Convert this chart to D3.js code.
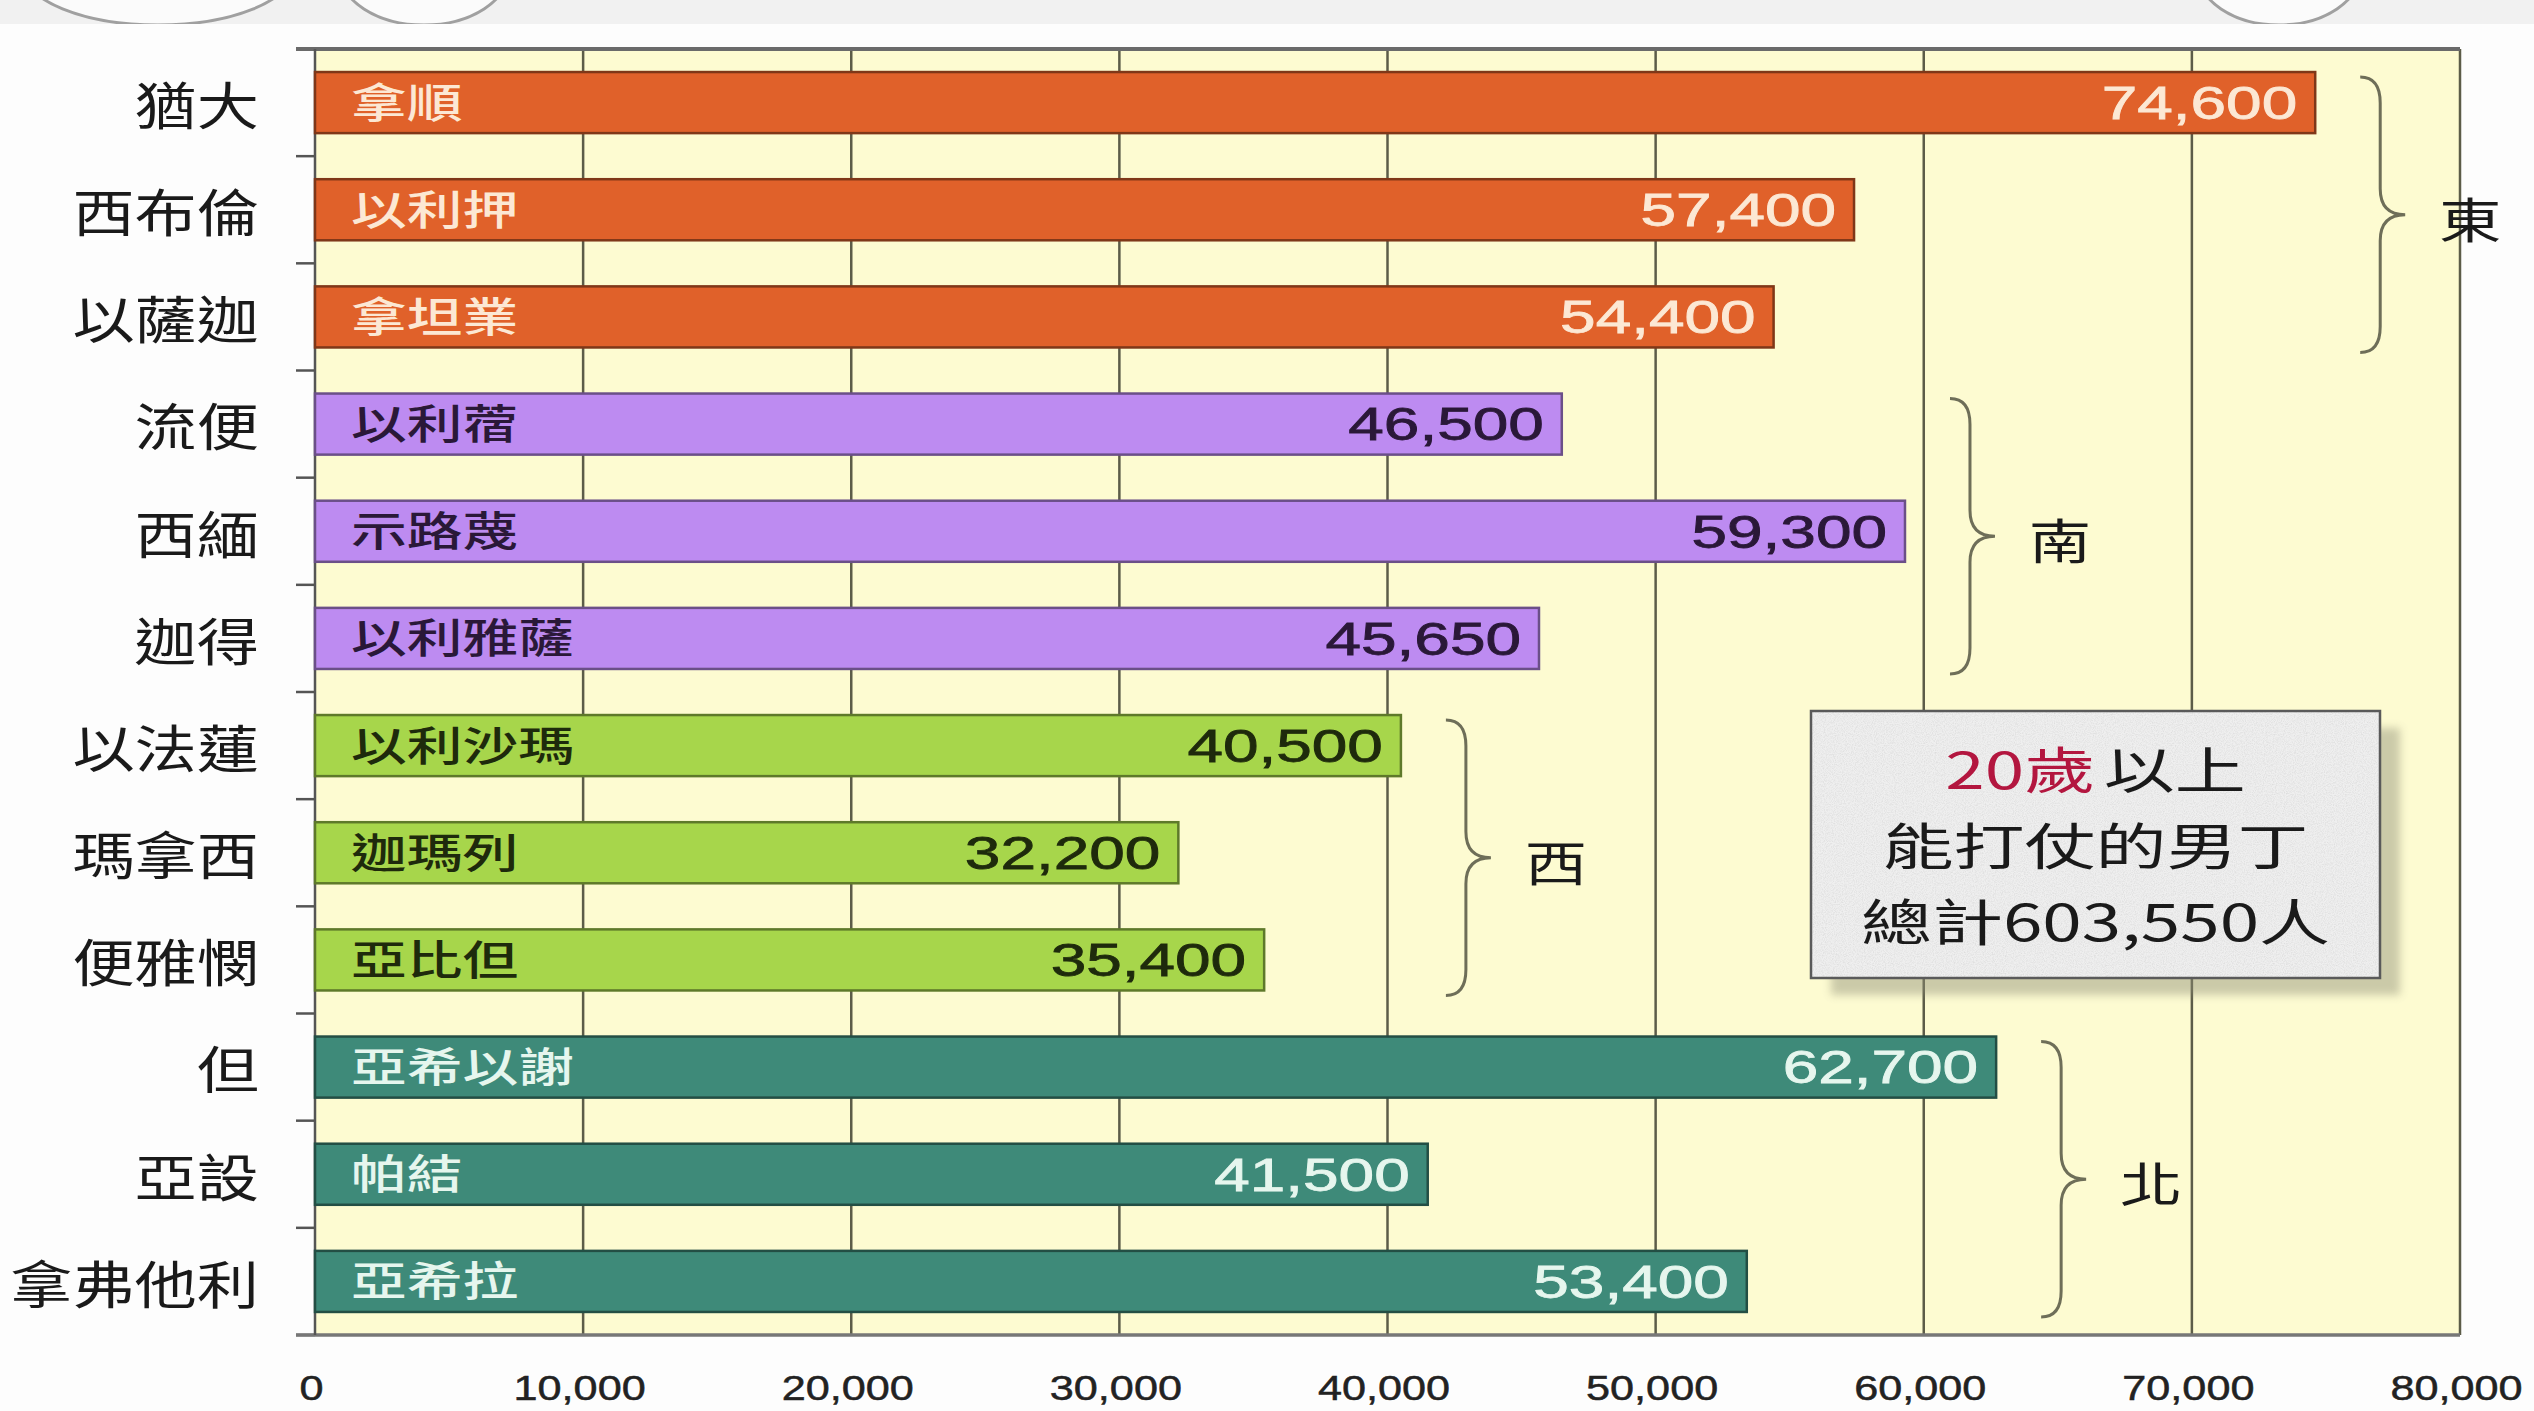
<!DOCTYPE html>
<html><head><meta charset="utf-8">
<script src="https://cdn.jsdelivr.net/npm/d3@7"></script>
<style>body{margin:0;background:#fdfdfd;overflow:hidden} svg{display:block}</style>
</head><body><svg id="c" width="2534" height="1411"></svg>
<script>
// ---- data ----
const tribes  = ["猶大","西布倫","以薩迦","流便","西緬","迦得","以法蓮","瑪拿西","便雅憫","但","亞設","拿弗他利"];
const leaders = ["拿順","以利押","拿坦業","以利蓿","示路蔑","以利雅薩","以利沙瑪","迦瑪列","亞比但","亞希以謝","帕結","亞希拉"];
const values  = [74600,57400,54400,46500,59300,45650,40500,32200,35400,62700,41500,53400];
const groupOf = ["東","東","東","南","南","南","西","西","西","北","北","北"];
const groupNames = ["東","南","西","北"];
const xTicks = [0,10000,20000,30000,40000,50000,60000,70000,80000];
const noteRed = "20歲";
const noteLines = ["以上","能打仗的男丁","總計603,550人"];

// ---- styles ----
const fillOf = {"東":"#e0612a","南":"#bd8bf1","西":"#a7d64b","北":"#3e8a79"};
const nameColor = {"東":"#fce8d4","南":"#2a1838","西":"#1e2a0c","北":"#e6f6ee"};
const cjk = "'Noto Sans CJK TC','Noto Sans CJK SC',sans-serif";
const latin = "'Liberation Sans',Arial,sans-serif";

const svg = d3.select("#c");
const defs = svg.append("defs");
const f = defs.append("filter").attr("id","noise").attr("x",0).attr("y",0).attr("width","100%").attr("height","100%");
f.append("feTurbulence").attr("type","fractalNoise").attr("baseFrequency",0.9).attr("numOctaves",2).attr("result","n");
f.append("feColorMatrix").attr("in","n").attr("type","matrix")
 .attr("values","0 0 0 0 0.55  0 0 0 0 0.55  0 0 0 0 0.55  0 0 0 -1.6 1.0").attr("result","g");
f.append("feComposite").attr("in","g").attr("in2","SourceGraphic").attr("operator","in");
const bl = defs.append("filter").attr("id","blur");
bl.append("feGaussianBlur").attr("stdDeviation",4);
defs.append("clipPath").attr("id","topclip").append("rect").attr("x",0).attr("y",0).attr("width",2534).attr("height",24);

// top decoration strip
svg.append("rect").attr("x",0).attr("y",0).attr("width",2534).attr("height",24).attr("fill","#f1f1f1");
const deco = svg.append("g").attr("clip-path","url(#topclip)");
[[158,135],[424,85],[2279,82]].forEach(([cx,rx])=>{
  deco.append("ellipse").attr("cx",cx).attr("cy",-30).attr("rx",rx).attr("ry",55)
    .attr("fill","#fbfbfb").attr("stroke","#a0a0a0").attr("stroke-width",3);
});

// ---- scales ----
const x = d3.scaleLinear().domain([0,80000]).range([315,2460]);
const y = d3.scaleBand().domain(tribes).range([49,1335]).paddingInner(0.43).paddingOuter(0.215);
const bw = y.bandwidth();

// plot background
svg.append("rect").attr("x",x(0)).attr("y",y.range()[0]).attr("width",x(80000)-x(0))
  .attr("height",y.range()[1]-y.range()[0]).attr("fill","#fdfbd1");

// vertical grid lines
svg.append("g").selectAll("line").data(xTicks.filter(d=>d>0)).join("line")
  .attr("x1",d=>x(d)).attr("x2",d=>x(d)).attr("y1",y.range()[0]).attr("y2",y.range()[1])
  .attr("stroke","#5c5c48").attr("stroke-width",2.5);

// category boundary ticks
const bounds = tribes.map(t=>y(t)-y.step()*y.paddingInner()/2).concat([y.range()[1]]);
svg.append("g").selectAll("line").data(bounds).join("line")
  .attr("x1",296).attr("x2",x(0)).attr("y1",d=>d).attr("y2",d=>d)
  .attr("stroke","#555").attr("stroke-width",2.5);

// frame lines
svg.append("line").attr("x1",296).attr("x2",x(80000)).attr("y1",y.range()[0]).attr("y2",y.range()[0])
  .attr("stroke","#6a6a6a").attr("stroke-width",4);
svg.append("line").attr("x1",296).attr("x2",x(80000)).attr("y1",y.range()[1]).attr("y2",y.range()[1])
  .attr("stroke","#777").attr("stroke-width",3.5);
svg.append("line").attr("x1",x(0)).attr("x2",x(0)).attr("y1",y.range()[0]).attr("y2",y.range()[1])
  .attr("stroke","#555").attr("stroke-width",2.5);

// bars
const rows = tribes.map((t,i)=>({t, leader:leaders[i], v:values[i], g:groupOf[i]}));
svg.append("g").selectAll("rect").data(rows).join("rect")
  .attr("x",x(0)).attr("y",d=>y(d.t)).attr("width",d=>x(d.v)-x(0)).attr("height",bw)
  .attr("fill",d=>fillOf[d.g]).attr("stroke",d=>d3.color(fillOf[d.g]).darker(1.6)).attr("stroke-width",2.5);

// leader names inside bars
svg.append("g").selectAll("text").data(rows).join("text")
  .attr("transform",d=>`translate(${x(0)+36},${y(d.t)+bw/2-3}) scale(1.36,1)`)
  .attr("dominant-baseline","central").attr("font-family",cjk).attr("font-size",41).attr("font-weight",500)
  .attr("fill",d=>nameColor[d.g]).text(d=>d.leader);

// values inside bars
svg.append("g").selectAll("text").data(rows).join("text")
  .attr("transform",d=>`translate(${x(d.v)-18},${y(d.t)+bw/2}) scale(1.36,1)`)
  .attr("text-anchor","end").attr("dominant-baseline","central")
  .attr("font-family",latin).attr("font-size",47)
  .attr("fill",d=>nameColor[d.g]).attr("stroke",d=>nameColor[d.g]).attr("stroke-width",0.8)
  .text(d=>d3.format(",")(d.v));

// y axis labels
const yAxis = svg.append("g").attr("transform",`translate(${x(0)},0)`)
  .call(d3.axisLeft(y).tickSize(0).tickPadding(0));
yAxis.select(".domain").remove();
yAxis.selectAll("text").attr("x",0).attr("dy",null)
  .attr("transform","translate(-56,0) scale(1.22,1)")
  .attr("dominant-baseline","central").attr("text-anchor","end")
  .attr("font-family",cjk).attr("font-size",51).attr("fill","#1a1a1a");

// x axis labels
const xAxis = svg.append("g").attr("transform",`translate(0,${y.range()[1]})`)
  .call(d3.axisBottom(x).tickValues(xTicks).tickFormat(d3.format(",")).tickSize(0).tickPadding(0));
xAxis.select(".domain").remove();
xAxis.selectAll("text").attr("y",0).attr("dy",null)
  .attr("transform","translate(-4,52) scale(1.2,1)")
  .attr("dominant-baseline","central").attr("text-anchor","middle")
  .attr("font-family",latin).attr("font-size",36).attr("fill","#222")
  .attr("stroke","#222").attr("stroke-width",0.5);

// group braces
groupNames.forEach(g=>{
  const idx = rows.map((r,i)=>r.g===g?i:-1).filter(i=>i>=0);
  const y0 = y(tribes[idx[0]])+5, y1 = y(tribes[idx[idx.length-1]])+bw+5;
  const left = x(d3.max(idx,i=>values[i]))+45;
  const xm = left+20, xt = left+45, ym=(y0+y1)/2, r=26;
  const p = `M${left},${y0} Q${xm},${y0} ${xm},${y0+r} L${xm},${ym-r} Q${xm},${ym} ${xt},${ym} Q${xm},${ym} ${xm},${ym+r} L${xm},${y1-r} Q${xm},${y1} ${left},${y1}`;
  svg.append("path").attr("d",p).attr("fill","none").attr("stroke","#6e6e58").attr("stroke-width",3);
  svg.append("text").attr("transform",`translate(${left+110},${ym+2}) scale(1.3,1)`)
    .attr("text-anchor","middle").attr("dominant-baseline","central")
    .attr("font-family",cjk).attr("font-size",48).attr("fill","#1a1a1a").text(g);
});

// note box
const bx=1811, by=711, bwid=569, bh=267;
svg.append("rect").attr("x",bx+20).attr("y",by+17).attr("width",bwid).attr("height",bh)
  .attr("fill","#8f8f78").attr("opacity",0.45).attr("filter","url(#blur)");
svg.append("rect").attr("x",bx).attr("y",by).attr("width",bwid).attr("height",bh).attr("fill","#efefef");
svg.append("rect").attr("x",bx).attr("y",by).attr("width",bwid).attr("height",bh).attr("fill","#efefef")
  .attr("filter","url(#noise)").attr("opacity",0.5);
svg.append("rect").attr("x",bx).attr("y",by).attr("width",bwid).attr("height",bh)
  .attr("fill","none").attr("stroke","#5a5a5a").attr("stroke-width",2.5);
const cx = bx+bwid/2;
const t1 = svg.append("text").attr("transform",`translate(${cx},${by+56}) scale(1.42,1)`)
  .attr("text-anchor","middle").attr("dominant-baseline","central")
  .attr("font-family",cjk).attr("font-size",50).attr("fill","#1a1a1a");
t1.append("tspan").attr("fill","#b3163f").text(noteRed);
t1.append("tspan").attr("dx",6).text(noteLines[0]);
noteLines.slice(1).forEach((s,i)=>{
  svg.append("text").attr("transform",`translate(${cx},${by+132+i*76}) scale(1.42,1)`)
    .attr("text-anchor","middle").attr("dominant-baseline","central")
    .attr("font-family",cjk).attr("font-size",50).attr("fill","#1a1a1a").text(s);
});
</script></body></html>
